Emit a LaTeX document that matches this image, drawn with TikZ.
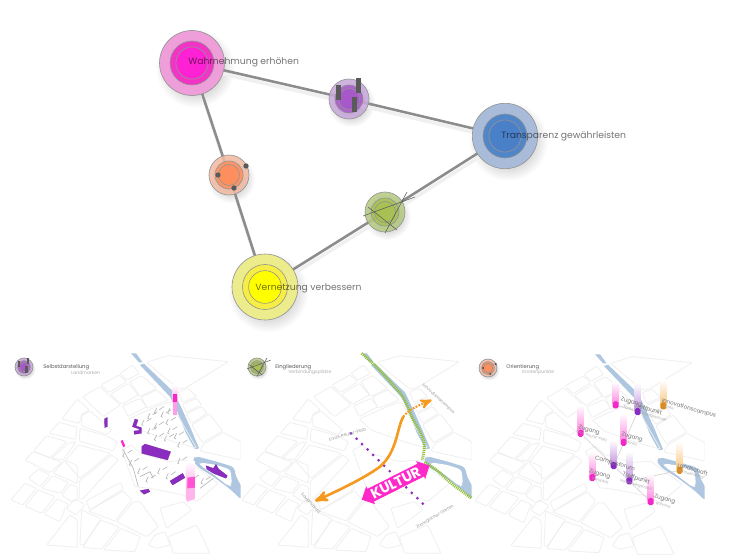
\documentclass[tikz,border=0pt]{standalone}
\usepackage{fontspec}
\setmainfont{Poppins}
\usetikzlibrary{positioning,shapes.arrows,arrows,calc}
\definecolor{linkgray}{HTML}{8C8C8C}
\definecolor{markgray}{HTML}{5A5A5A}
\definecolor{blockgray}{HTML}{EFEFEF}
\definecolor{riverblue}{HTML}{AEC6E0}
\definecolor{kultpink}{HTML}{FF28C8}
\definecolor{kultpurple}{HTML}{8A2CC0}
\definecolor{kultorange}{HTML}{F59A1E}
\definecolor{kultgreen}{HTML}{8FBF2A}
\definecolor{tickgray}{HTML}{B4B4B4}
\definecolor{wahrA}{HTML}{EE9ED8}
\definecolor{wahrB}{HTML}{F234C6}
\definecolor{wahrC}{HTML}{FF22D4}
\definecolor{transA}{HTML}{A8BCDA}
\definecolor{transB}{HTML}{5086C8}
\definecolor{transC}{HTML}{4A80C8}
\definecolor{vernA}{HTML}{EDEC8C}
\definecolor{vernB}{HTML}{F6EE44}
\definecolor{vernC}{HTML}{FFFF00}
\definecolor{purpA}{HTML}{C8A8DC}
\definecolor{purpB}{HTML}{A552C8}
\definecolor{orangA}{HTML}{F2BAA2}
\definecolor{orangB}{HTML}{FF8C58}
\definecolor{greenA}{HTML}{B4CA80}
\definecolor{greenB}{HTML}{A8C050}
\pgfdeclarelayer{shade}
\pgfdeclarelayer{links}
\pgfdeclarelayer{top}
\pgfsetlayers{shade,links,main,top}
\tikzstyle{link}=[linkgray,line width=1.45pt]
\tikzstyle{linkshade}=[black!6,line width=2pt]
\tikzstyle{ring}=[circle,inner sep=0pt,draw=gray!85,line width=.35pt]
\tikzstyle{biglabel}=[anchor=west,inner sep=0pt,text=black,text opacity=.55,font=\fontsize{5.25}{7}\selectfont]
\tikzstyle{headlabel}=[anchor=west,inner sep=0pt,text=black!65,font=\fontsize{3}{4}\selectfont]
\tikzstyle{sublabel}=[anchor=west,inner sep=0pt,text=black!32,font=\fontsize{2.6}{3}\selectfont]
\tikzstyle{maptext}=[inner sep=0pt,text=black!40,font=\fontsize{2.4}{3}\selectfont]
\tikzstyle{pintext}=[anchor=west,inner sep=0pt,text=black!55,font=\fontsize{3.2}{4}\selectfont,rotate=-16]
\tikzstyle{pinsub}=[anchor=west,inner sep=0pt,text=black!35,font=\fontsize{2}{3}\selectfont,rotate=-16]
\tikzstyle{street}=[blockgray,line width=.45pt,rounded corners=.6pt]
\tikzstyle{building}=[fill=kultpurple,draw=kultpurple!80!black,line width=.1pt]
\tikzstyle{tick}=[tickgray,line width=.35pt]
\tikzstyle{pinline}=[black!18,line width=.35pt]
\tikzstyle{zoomed}=[x=0.00667cm,y=-0.00667cm]
\newcommand{\bubble}[8]{
	\begin{pgfonlayer}{shade}
		\shade[inner color=black!42,outer color=white] (#2+3,#3+5) circle (#4*1.22);
	\end{pgfonlayer}
	\node[ring,fill=#6,minimum size=#4*0.04cm] (#1) at (#2,#3) {};
	\node[ring,fill=#7,minimum size=#5*0.04cm] (#1mid) at (#2,#3) {};
	\node[ring,fill=#8,minimum size=#5*0.0291cm] (#1core) at (#2,#3) {};
}
\newcommand{\ringmark}[7]{
	\begin{scope}[shift={(#2,#3)},scale=#4,transform shape]
		\begin{pgfonlayer}{shade}
			\shade[inner color=black!38,outer color=white] (2,4) circle (24);
		\end{pgfonlayer}
		\node[ring,fill=#5,fill opacity=.85,minimum size=0.8cm] (#1) at (0,0) {};
		\node[ring,fill=#6,fill opacity=.8,minimum size=0.56cm] (#1mid) at (0,0) {};
		\node[ring,fill=#6,fill opacity=.6,minimum size=0.42cm] (#1core) at (0,0) {};
		#7
	\end{scope}
}
\newcommand{\barmarks}{
	\fill[markgray] (-13,-14) rectangle (-8,1);
	\fill[markgray] (7,-21) rectangle (12,-6);
	\fill[markgray] (3,-2) rectangle (8,13);
}
\newcommand{\dotmarks}{
	\foreach \px/\py in {17/-9,-11/0,5/13} {
		\fill[markgray] (\px,\py) circle (2.7);}
}
\newcommand{\crossmarks}{
	\draw[markgray,line width=.3pt] (-22,4)--(30,-15);
	\draw[markgray,line width=.3pt] (-17,-5)--(12,18);
	\draw[markgray,line width=.3pt] (22,-20)--(0,21);
}
\newcommand{\mappin}[6]{
	\begin{pgfonlayer}{top}
		\shade[top color=white,bottom color=#5] (#2-9,#4) rectangle (#2+9,#3-4);
		\node[rectangle,rounded corners=1pt,fill=#6,inner sep=0pt,minimum width=.12cm,minimum height=.14cm] (#1) at (#2,#3) {};
	\end{pgfonlayer}
}
\newcommand{\citymap}{
	\fill[riverblue] (393,25)--(408,25)--(428,52)--(417,52)--cycle;
	\fill[riverblue] (420,60)--(432,56)--(522,142)--(545,190)--(572,250)--(597,310)--(585,313)--(558,265)--(530,195)--(510,155)--cycle;
	\fill[riverblue,rounded corners=2pt] (576,342)--(590,334)--(650,350)--(702,366)--(708,395)--(725,425)--(725,465)--(690,432)--(640,395)--(592,365)--cycle;
	\fill[white,rounded corners=2pt] (598,352)--(650,360)--(692,374)--(696,420)--(686,424)--(640,388)--(602,362)--cycle;
	\draw[street] (440,52)--(505,32)--(685,50)--(560,127)--(538,133)--(490,95)--cycle;
	\draw[street] (360,85)--(398,60)--(418,85)--(382,105)--cycle;
	\draw[street] (303,120)--(357,90)--(380,110)--(328,143)--cycle;
	\draw[street] (332,148)--(385,115)--(415,150)--(365,178)--cycle;
	\draw[street] (390,110)--(425,92)--(470,130)--(420,155)--cycle;
	\draw[street] (248,155)--(300,125)--(360,180)--(310,215)--cycle;
	\draw[street] (368,183)--(420,160)--(440,185)--(385,215)--cycle;
	\draw[street] (425,155)--(470,135)--(505,165)--(440,190)--cycle;
	\draw[street] (385,222)--(475,182)--(510,170)--(530,205)--(590,310)--(520,290)--(420,255)--cycle;
	\draw[street] (535,140)--(565,130)--(590,155)--(548,172)--cycle;
	\draw[street] (548,178)--(590,160)--(605,180)--(558,202)--cycle;
	\draw[street] (558,207)--(605,185)--(622,205)--(575,235)--cycle;
	\draw[street] (575,240)--(628,207)--(668,258)--(607,293)--cycle;
	\draw[street] (610,298)--(670,262)--(722,290)--(722,345)--(600,318)--cycle;
	\draw[street] (185,222)--(232,162)--(268,195)--(245,208)--(238,235)--cycle;
	\draw[street] (245,212)--(270,198)--(335,255)--(320,268)--(245,243)--cycle;
	\draw[street] (147,265)--(177,232)--(232,247)--(226,283)--cycle;
	\draw[street] (240,250)--(318,272)--(352,290)--(340,318)--(238,288)--cycle;
	\draw[street] (100,318)--(140,272)--(200,290)--(150,338)--cycle;
	\draw[street] (155,340)--(205,295)--(228,290)--(190,345)--cycle;
	\draw[street] (75,345)--(100,320)--(185,352)--(150,383)--cycle;
	\draw[street] (160,385)--(195,345)--(232,362)--(232,415)--cycle;
	\draw[street] (85,400)--(115,372)--(150,390)--(120,425)--cycle;
	\draw[street] (125,430)--(158,392)--(205,412)--(182,445)--cycle;
	\draw[street] (185,450)--(210,418)--(232,425)--(232,465)--(215,470)--cycle;
	\draw[street] (32,465)--(75,415)--(110,430)--(68,480)--cycle;
	\draw[street] (75,483)--(115,435)--(165,455)--(125,505)--cycle;
	\draw[street] (132,507)--(172,462)--(205,478)--(195,490)--(180,530)--cycle;
	\draw[street] (200,492)--(225,460)--(255,480)--(228,510)--cycle;
	\draw[street] (140,600)--(210,510)--(232,525)--(232,607)--cycle;
	\draw[street] (248,608)--(300,525)--(358,545)--(305,612)--cycle;
	\draw[street] (312,615)--(362,550)--(420,575)--(405,620)--cycle;
	\draw[street] (245,495)--(305,522)--(250,600)--(240,600)--cycle;
	\draw[street] (195,350)--(235,300)--(332,325)--(240,400)--cycle;
	\draw[street] (238,408)--(335,330)--(355,345)--(248,462)--(238,462)--cycle;
	\draw[street] (258,468)--(362,412)--(370,432)--(270,495)--cycle;
	\draw[street] (265,498)--(370,438)--(395,465)--(345,528)--cycle;
	\draw[street] (350,530)--(400,470)--(420,470)--(475,545)--(440,575)--cycle;
	\draw[street] (365,315)--(395,300)--(420,325)--(505,350)--(560,345)--(655,415)--(590,470)--(550,450)--(450,430)--(405,425)--cycle;
	\draw[street] (480,490)--(550,470)--(575,495)--(500,550)--cycle;
	\draw[street] (445,600)--(465,570)--(495,560)--(510,600)--(470,610)--cycle;
	\draw[street] (505,575)--(590,540)--(630,625)--(520,625)--cycle;
}
\begin{document}
\begin{tikzpicture}[x=0.02cm,y=-0.02cm]
	\useasboundingbox (0,0) rectangle (750,560);
	\begin{pgfonlayer}{shade}
		\fill[white] (0,0) rectangle (750,560);
	\end{pgfonlayer}
	\bubble{wahr}{192}{63}{32.5}{22}{wahrA}{wahrB}{wahrC}
	\bubble{trans}{505}{136}{32.7}{22}{transA}{transB}{transC}
	\bubble{vern}{265}{287}{33}{22.5}{vernA}{vernB}{vernC}
	\ringmark{purp}{349}{99}{1}{purpA}{purpB}{\barmarks}
	\ringmark{orang}{229}{175}{1}{orangA}{orangB}{\dotmarks}
	\ringmark{green}{385}{212}{1}{greenA}{greenB}{\crossmarks}
	\begin{pgfonlayer}{links}
		\foreach \s/\e in {wahr/purp,purp/trans,trans/green,green/vern,vern/orang,orang/wahr} {
			\draw[linkshade] ([shift={(1,4)}]\s.center)--([shift={(1,4)}]\e.center);
			\draw[link] (\s.center)--(\e.center);}
	\end{pgfonlayer}
	\node[biglabel] (wahrtext) at (188,62) {Wahrnehmung erhöhen};
	\node[biglabel] (transtext) at (501,136) {Transparenz gewährleisten};
	\node[biglabel] (verntext) at (255,288) {Vernetzung verbessern};

	\ringmark{legendA}{24}{367}{.45}{purpA}{purpB}{\barmarks}
	\ringmark{legendB}{257}{367}{.45}{greenA}{greenB}{\crossmarks}
	\ringmark{legendC}{488}{368}{.45}{orangA}{orangB}{\dotmarks}
	\foreach \x/\t/\u/\s/\n in {43/Selbstdarstellung/71/Landmarken/A,275/Eingliederung/288/Verbindungsplätze/B,506/Orientierung/522/Knotenpunkte/C} {
		\node[headlabel] (head\n) at (\x,367.5) {\t};
		\node[sublabel] (sub\n) at (\u,372.7) {\s};}

	\begin{scope}[shift={(0,345)},zoomed]
		\begin{scope}
			\clip (0,0) rectangle (722,640);
			\citymap
		\end{scope}
		\foreach \a/\b in {450/205,470/190,490/200,510/190,505/222,470/235,450/250,510/250,530/265,470/270,500/272,432/225,540/290,375/320,395/345,420/370,445/395,480/370,505/385,540/340,575/395,610/400} {
			\draw[tick] (\a,\b)--++(-7,14)--++(5,3);
			\draw[tick] (\a+8,\b+4)--++(14,-9);}
		\draw[tick] (368,312)--(400,370)--(415,425);
		\draw[tick] (420,395)--(450,380)--(460,400);
		\draw[tick] (600,430)--(640,400);
		\shade[top color=white,bottom color=kultpink!45] (518,120) rectangle (532,172);
		\fill[kultpink!45] (518,172) rectangle (532,210);
		\fill[kultpink!90!kultpurple] (520,148) rectangle (532,172);
		\fill[building] (313,222)--(322,217)--(322,245)--(314,248)--cycle;
		\fill[building] (405,222)--(414,225)--(408,243)--(425,248)--(425,265)--(403,268)--(402,258)--(417,256)--(417,252)--(397,245)--cycle;
		\fill[building] (425,305)--(435,297)--(495,315)--(512,320)--(503,345)--(425,325)--cycle;
		\fill[building] (510,408)--(548,385)--(555,398)--(518,420)--cycle;
		\fill[building] (420,437)--(445,432)--(450,440)--(432,448)--cycle;
		\fill[building] (618,362)--(640,370)--(648,358)--(656,372)--(682,392)--(678,400)--(640,385)--(620,372)--cycle;
		\fill[kultpink] (362,288)--(368,285)--(376,303)--(370,307)--cycle;
		\shade[top color=white,bottom color=kultpink!35] (558,350) rectangle (585,420);
		\fill[kultpink!35] (558,420)--(585,420)--(585,462)--(562,470)--(558,462)--cycle;
		\fill[kultpink!80] (562,398)--(585,395)--(585,428)--(562,430)--cycle;
	\end{scope}

	\begin{scope}[shift={(231,345)},zoomed]
		\clip (0,0) rectangle (722,640);
		\citymap
	\end{scope}
	\begin{scope}[shift={(240,345)},zoomed]
		\draw[kultgreen,line width=1.7pt,dash pattern=on .55pt off .55pt,rounded corners=3pt] (365,25)--(415,70)--(490,155)--(515,215)--(545,270)--(555,300)--(547,345);
		\draw[kultgreen,line width=1.7pt,dash pattern=on .55pt off .55pt] (553,352)--(590,375)--(640,420)--(695,460);
		\coordinate (orangestart) at (490,215);
		\coordinate (orangeend) at (225,468);
		\coordinate (orangenorth) at (575,165);
		\coordinate (dotstart) at (333,265);
		\coordinate (dotend) at (565,492);
		\draw[kultpurple,line width=1.7pt,line cap=round,dash pattern=on 0pt off 4.4pt] (dotstart)--(dotend);
		\draw[kultorange,line width=1.5pt,->,>=stealth'] (orangestart) .. controls (470,250) and (472,320) .. (420,365) .. controls (380,395) and (300,435) .. (orangeend);
		\draw[kultorange,line width=1.2pt,dash pattern=on 1pt off .8pt,->,>=stealth'] (orangestart) .. controls (510,190) and (540,180) .. (orangenorth);
		\node[double arrow,fill=kultpink,text=white,rotate=26.7,inner sep=1pt,minimum height=1.52cm,minimum width=.4cm,double arrow head extend=1.6pt,font=\fontsize{8}{9}\bfseries\selectfont] (kultur) at (467,413) {KULTUR};
		\node[maptext,rotate=16] (ernst) at (323,268) {Ernst-Reuter-Platz};
		\node[maptext,rotate=-48] (savigny) at (212,476) {Savignyplatz};
		\node[maptext,rotate=-42] (innocamp) at (595,161) {Innovationscampus};
		\node[maptext,rotate=30] (zoo) at (585,516) {Zoologischer Garten};
	\end{scope}

	\begin{scope}[shift={(464,346)},zoomed]
		\clip (0,0) rectangle (722,640);
		\citymap
	\end{scope}
	\begin{scope}[shift={(470,345)},zoomed]
		\mappin{zugA}{437}{180}{110}{kultpink!55}{kultpink!90!kultpurple}
		\mappin{zugB}{332}{265}{180}{kultpink!55}{kultpink!90!kultpurple}
		\mappin{zugC}{461}{292}{205}{kultpink!55}{kultpink!90!kultpurple}
		\mappin{zugD}{367}{398}{320}{kultpink!55}{kultpink!90!kultpurple}
		\mappin{zugE}{542}{470}{385}{kultpink!55}{kultpink!90!kultpurple}
		\mappin{trefA}{503}{200}{115}{kultpurple!50}{kultpurple}
		\mappin{campus}{431}{362}{285}{kultpurple!50}{kultpurple}
		\mappin{trefB}{478}{408}{320}{kultpurple!50}{kultpurple}
		\mappin{inno}{580}{183}{105}{kultorange!55}{kultorange!90!black}
		\mappin{land}{629}{376}{290}{kultorange!55}{kultorange!90!black}
		\draw[pinline] (zugB)--(campus);
		\draw[pinline] (campus)--(trefB);
		\draw[pinline] (trefB)--(zugE);
		\draw[pinline] (campus)--(trefA);
		\draw[pinline] (zugA)--(trefA);
		\draw[pinline] (trefB)--(land);
		\begin{pgfonlayer}{top}
			\foreach \n/\a/\b/\t in {a/452/163/Zugang,b/325/247/Zugang,c/454/268/Zugang,d/357/378/Zugang,e/552/453/Zugang,f/493/183/Treffpunkt,g/457/388/Treffpunkt,h/375/339/Campusforum,i/575/167/Innovationscampus,j/622/360/Landschaft} {
				\node[pintext] (pin\n) at (\a,\b) {\t};}
			\foreach \n/\a/\b/\t in {a/460/186/Spree,b/318/260/Ernst-Reuter-Platz,c/466/289/Mensa,d/365/400/Steinplatz,e/558/474/Bahnhof,f/510/204/Hauptgebäude,g/450/407/Hardenbergstraße,i/580/184/Spree,j/625/376/Landwehrkanal} {
				\node[pinsub] (pinsub\n) at (\a,\b) {\t};}
		\end{pgfonlayer}
	\end{scope}
\end{tikzpicture}
\end{document}
